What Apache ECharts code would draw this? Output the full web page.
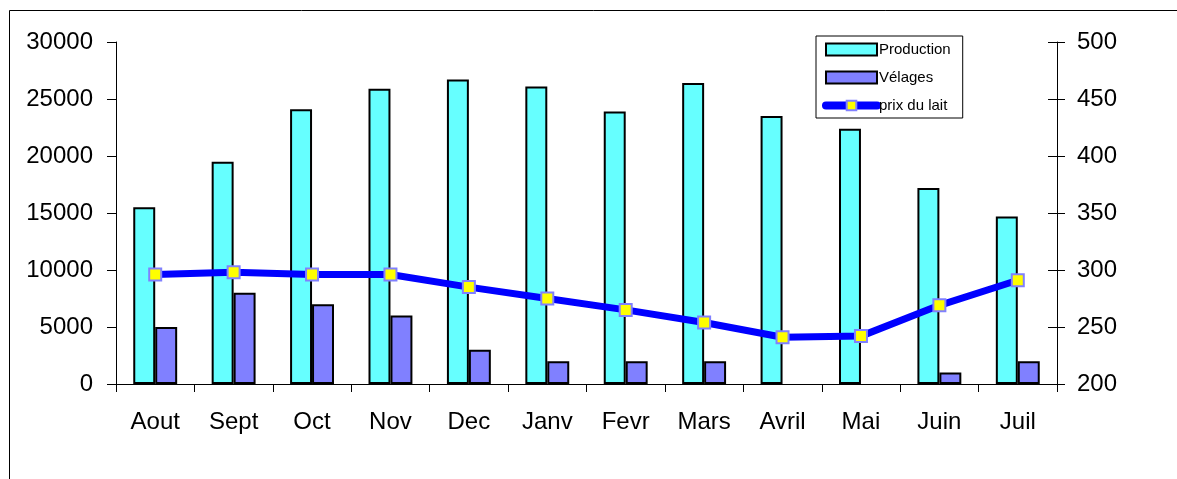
<!DOCTYPE html>
<html>
<head>
<meta charset="utf-8">
<script src="https://cdn.jsdelivr.net/npm/echarts@6/dist/echarts.min.js"></script>
<style>
html,body{margin:0;padding:0;background:#fff;}
#chart{width:1177px;height:479px;}
</style>
</head>
<body>
<div id="chart"></div>
<script>
const categories = ['Aout','Sept','Oct','Nov','Dec','Janv','Fevr','Mars','Avril','Mai','Juin','Juil'];
const production = [15500,19500,24100,25900,26700,26100,23900,26400,23500,22400,17200,14700];
const velages = [5000,8000,7000,6000,3000,2000,2000,2000,0,0,1000,2000];
const prixDuLait = [296,298,296,296,285,275,265,254,241,242,269,291];
const leftTicks = [0,5000,10000,15000,20000,25000,30000];
const rightTicks = [200,250,300,350,400,450,500];

// zero-height bars are drawn without a border (as in the original chart)
const toBarData = arr => arr.map(v => v === 0 ? {value:v, itemStyle:{borderWidth:0}} : v);

const chart = echarts.init(document.getElementById('chart'), null, {renderer:'canvas'});
const font = 'Liberation Sans, Arial, sans-serif';
chart.setOption({
  animation:false,
  backgroundColor:'#fff',
  textStyle:{fontFamily:font},
  graphic:[{
    type:'rect', shape:{x:9.5,y:10.5,width:1200,height:500},
    style:{fill:'none',stroke:'#000',lineWidth:1}, z:-1
  }],
  grid:{left:116,right:120,top:42,bottom:95},
  legend:{
    orient:'vertical', left:816, top:36,
    padding:[6,12,5,6], itemGap:13,
    itemWidth:51, itemHeight:12,
    borderColor:'#000', borderWidth:1,
    backgroundColor:'#fff',
    textStyle:{fontSize:15, color:'#000', fontFamily:font, padding:[0,0,0,-3]},
    data:[
      {name:'Production', icon:'rect'},
      {name:'Vélages', icon:'rect'},
      {name:'prix du lait', lineStyle:{width:8, cap:'round'}}
    ]
  },
  xAxis:{
    type:'category', data:categories,
    axisLine:{lineStyle:{color:'#000',width:1}},
    axisTick:{show:true, length:8, lineStyle:{color:'#000'}},
    axisLabel:{fontSize:24, color:'#000', margin:26, fontFamily:font},
    splitLine:{show:false}
  },
  yAxis:[{
    type:'value', min:0, max:30000, interval:5000, position:'left',
    axisLine:{show:true, lineStyle:{color:'#000'}},
    axisTick:{show:true, length:9, lineStyle:{color:'#000'}},
    axisLabel:{fontSize:24, color:'#000', margin:23, fontFamily:font,
      formatter:v=>String(v)},
    splitLine:{show:false}
  },{
    type:'value', min:200, max:500, interval:50, position:'right',
    axisLine:{show:true, lineStyle:{color:'#000'}},
    axisTick:{show:true, length:8, lineStyle:{color:'#000'}},
    axisLabel:{fontSize:24, color:'#000', margin:20, fontFamily:font},
    splitLine:{show:false}
  },{
    type:'value', min:200, max:500, interval:50, position:'right',
    axisLine:{show:false},
    axisTick:{show:true, inside:true, length:9, lineStyle:{color:'#000'}},
    axisLabel:{show:false},
    splitLine:{show:false}
  }],
  series:[{
    name:'Production', type:'bar', data:toBarData(production), yAxisIndex:0,
    barGap:'0%', barCategoryGap:'44%',
    itemStyle:{color:'#66FFFF', borderColor:'#000', borderWidth:2}
  },{
    name:'Vélages', type:'bar', data:toBarData(velages), yAxisIndex:0,
    barGap:'0%', barCategoryGap:'44%',
    itemStyle:{color:'#8080FF', borderColor:'#000', borderWidth:2}
  },{
    name:'prix du lait', type:'line', data:prixDuLait, yAxisIndex:1,
    symbol:'rect', symbolSize:12,
    lineStyle:{color:'#0000FF', width:7},
    itemStyle:{color:'#FFFF00', borderColor:'#8080FF', borderWidth:2},
    z:5
  }]
});
</script>
</body>
</html>
